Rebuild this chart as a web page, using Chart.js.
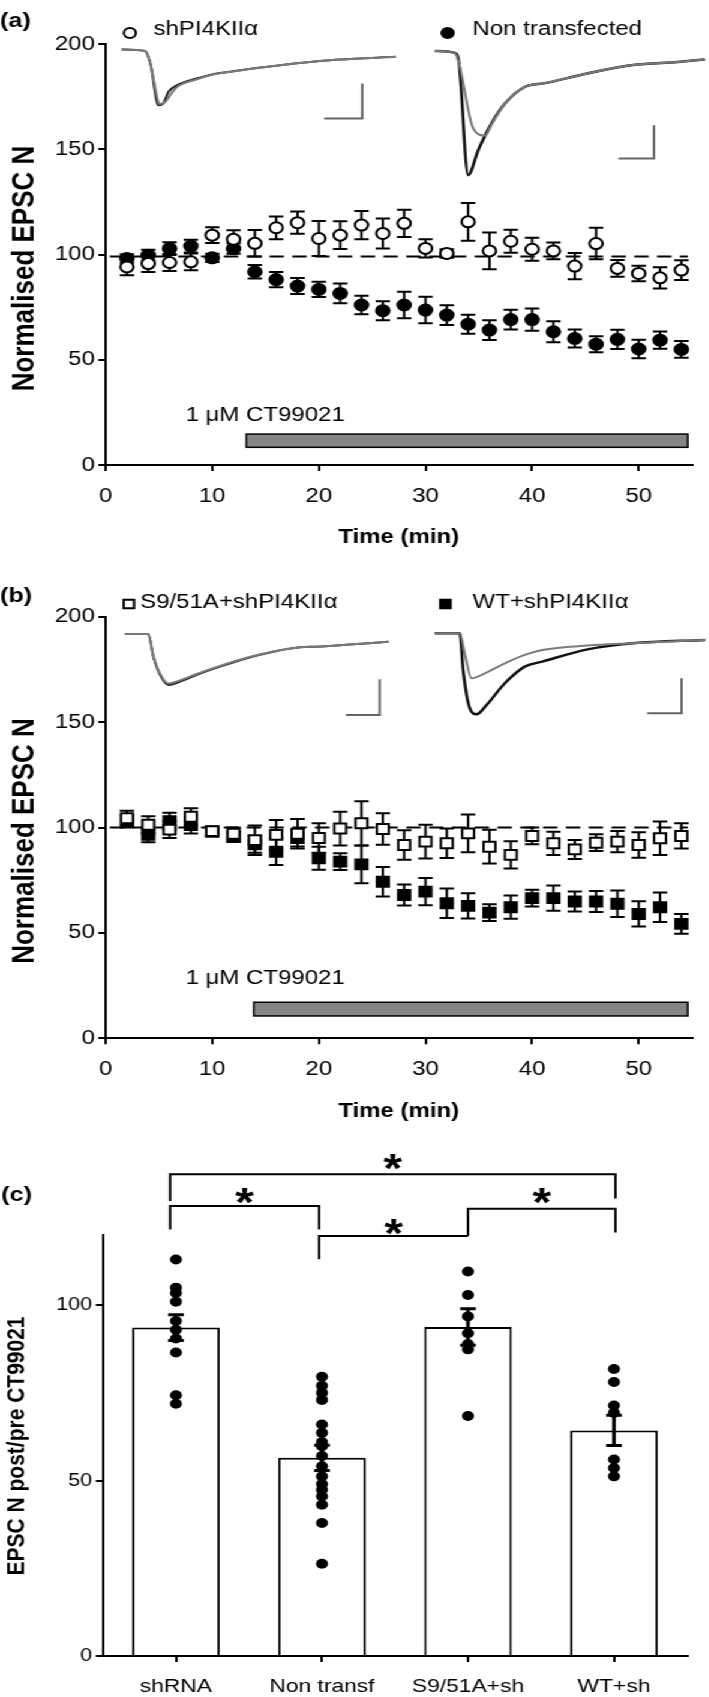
<!DOCTYPE html>
<html>
<head>
<meta charset="utf-8">
<script src="https://cdn.jsdelivr.net/npm/chart.js@4.4.0/dist/chart.umd.min.js"></script>
<style>
  html, body { margin: 0; padding: 0; background: #fff; }
  body { width: 709px; height: 1697px; overflow: hidden; position: relative; }
  /* the published figure is stretched sideways, so draw narrow and widen */
  #wrap { position: absolute; left: 0; top: 0; width: 591px; height: 1697px; transform: scaleX(1.2); transform-origin: 0 0; }
  canvas { position: absolute; left: 0; }
</style>
</head>
<body>
<div id="wrap">
  <canvas id="chartA" width="591" height="560" style="top:0px"></canvas>
  <canvas id="chartB" width="591" height="560" style="top:570px"></canvas>
  <canvas id="chartC" width="591" height="567" style="top:1130px"></canvas>
</div>
<script>
const FONT = '"Liberation Sans", Arial, sans-serif';

// ---------- panel (a) ----------
const timeMin = [2, 4, 6, 8, 10, 12, 14, 16, 18, 20, 22, 24, 26, 28, 30, 32, 34, 36, 38, 40, 42, 44, 46, 48, 50, 52, 54];
const shRNA_a = [94.1, 95.7, 96.2, 96.5, 109.2, 107.2, 105.3, 112.7, 115.1, 107.6, 109.2, 114.0, 110.0, 114.8, 102.9, 100.5, 115.5, 101.7, 106.3, 102.5, 101.7, 94.5, 105.2, 93.4, 91.0, 88.9, 92.6];
const shRNA_a_sem = [4, 4, 4, 4, 3.7, 4.3, 6.3, 5.4, 5.3, 8.3, 6.6, 6.7, 7.1, 6.5, 4.3, 2, 9, 8.7, 5.5, 5.5, 4, 6.2, 7.5, 4, 3.7, 5, 4.7];
const nonTransf_a = [98.1, 99.7, 102.8, 104.0, 98.4, 102.8, 91.8, 88.1, 85.0, 83.4, 81.5, 76.0, 73.3, 76.0, 73.6, 71.2, 66.9, 64.1, 69.1, 69.1, 63.3, 60.1, 57.4, 59.7, 55.1, 59.3, 54.9];
const nonTransf_a_sem = [2, 2.5, 3, 3, 2, 2.5, 3.2, 3.6, 3.8, 3.6, 4.7, 4.4, 4.5, 6.3, 6.3, 4.7, 4.5, 4.7, 4.7, 5.3, 5, 4.3, 3.8, 4.6, 4.4, 4.1, 4];

// example EPSC traces (in axis units)
const trA1x = [1.5, 3.7, 4.2, 4.95, 5.4, 5.9, 6.7, 8.55, 10.1, 11.7, 13.85, 16.35, 18.2, 21.9, 27.2];
const trA1y = [197.4, 196.7, 190.7, 170.9, 171.7, 177.3, 180.4, 183.6, 185.7, 186.8, 188.4, 189.9, 191.0, 192.6, 193.9];
const trA1gx = [1.5, 3.7, 4.2, 5.1, 5.6, 6.1, 6.7, 8.55, 10.1, 11.7, 13.85, 16.35, 18.2, 21.9, 27.2];
const trA1gy = [197.4, 196.7, 190.7, 171.5, 172.5, 176.0, 179.6, 183.2, 185.5, 186.8, 188.4, 189.9, 191.0, 192.6, 193.9];
const trA2x = [30.9, 32.75, 33.15, 34.0, 34.95, 36.2, 37.45, 39.3, 41.2, 45.2, 49.45, 53.65, 56.2];
const trA2y = [196.7, 195.8, 190.7, 137.7, 149.6, 162.3, 171.7, 179.6, 181.4, 186.0, 190.0, 191.5, 192.6];
const trA2gx = [30.9, 32.75, 33.15, 34.5, 35.6, 36.2, 37.45, 39.3, 41.2, 45.2, 49.45, 53.65, 56.2];
const trA2gy = [196.7, 195.8, 190.7, 159.6, 156.5, 161.8, 171.7, 179.6, 181.4, 186.0, 190.0, 191.5, 192.6];
const barA1x = [20.5, 24.07, 24.07], barA1y = [164.6, 164.6, 181.2];
const barA2x = [48.1, 51.43, 51.43], barA2y = [145.6, 145.6, 161.4];

// ---------- panel (b) ----------
const s951_b = [104.4, 101.3, 99.0, 105.1, 98.3, 97.0, 94.0, 96.5, 97.0, 95.0, 99.5, 102.0, 99.3, 91.7, 93.3, 92.5, 97.2, 90.9, 87.0, 96.0, 92.5, 89.6, 92.8, 93.3, 91.7, 94.9, 96.0];
const s951_b_sem = [3.5, 4, 4, 4, 2, 3, 7, 7, 7, 7, 8, 10.5, 7.5, 7, 8, 7, 9, 8, 6.5, 4, 5.5, 4.5, 4, 5, 6, 8, 6];
const wt_b = [103.0, 96.5, 103.0, 101.2, 98.0, 95.6, 92.0, 88.5, 95.0, 85.4, 83.8, 82.5, 74.3, 68.0, 69.6, 64.1, 62.8, 59.6, 62.2, 66.5, 66.5, 64.9, 64.9, 63.8, 59.0, 62.2, 54.3];
const wt_b_sem = [3, 3.5, 4, 4, 2, 2.5, 4, 6.3, 4, 5.5, 4, 9, 7, 5, 6.5, 7, 6, 4, 5.5, 4, 6, 4.7, 5, 6.3, 6, 7, 4.7];

const trB1x = [1.83, 4.0, 4.48, 5.11, 5.89, 6.98, 8.55, 10.73, 13.23, 15.73, 18.23, 19.78, 26.56];
const trB1y = [191.8, 191.8, 181.0, 172.4, 167.6, 169.2, 172.4, 176.3, 180.3, 183.4, 185.5, 185.8, 188.1];
const trB1gy = [191.8, 191.8, 181.4, 173.0, 168.3, 169.8, 172.8, 176.6, 180.5, 183.5, 185.5, 185.8, 188.1];
const trB2x = [30.88, 33.22, 33.53, 34.16, 34.79, 35.73, 37.44, 39.31, 40.97, 45.2, 49.44, 56.22];
const trB2y = [192.1, 192.1, 174.7, 156.5, 153.7, 158.1, 168.4, 176.3, 178.7, 184.5, 187.4, 189.0];
const trB2gx = [30.88, 33.22, 33.70, 34.32, 35.57, 37.44, 39.31, 40.97, 45.2, 49.44, 56.22];
const trB2gy = [192.1, 192.1, 182.1, 170.8, 173.1, 177.9, 181.9, 184.2, 186.3, 187.4, 189.0];
const barB1x = [22.54, 25.71, 25.71], barB1y = [153.4, 153.4, 170.3];
const barB2x = [50.8, 54.02, 54.02], barB2y = [154.2, 154.2, 170.8];

// ---------- panel (c) ----------
const groups = ['shRNA', 'Non transf', 'S9/51A+sh', 'WT+sh'];
const groupMean = [93.6, 56.5, 93.8, 64.3];
const groupSem = [3.7, 3.6, 5.2, 4.3];
const cells_shRNA = [113, 105, 103.5, 101, 95.5, 93, 90.5, 86.5, 74.3, 71.9];
const cells_nonTransf = [79.6, 77, 75, 73, 66, 63.6, 61, 59.8, 57, 54.1, 51.2, 49, 47.4, 45.5, 43.1, 37.9, 26.3];
const cells_s951 = [109.6, 102.9, 96.8, 92, 88.9, 87.4, 68.4];
const cells_wt = [81.8, 78.1, 71.4, 69.3, 56, 53.6, 51.2];
// significance brackets: [left group, right group, top, left end, right end, star]
const sigBrackets = [
  [-0.04, 3.01, 137.3, 129.7, 130.4, 141.6],
  [-0.04, 0.98, 128.3, 121.6, 121.6, 132.1],
  [0.98, 2.0, 119.7, 113.1, 119.7, 123.0],
  [2.0, 3.01, 127.5, 119.7, 120.7, 132.1]
];

function pts(xs, ys) { return xs.map((x, i) => ({ x: x, y: ys[i] })); }

function lineSet(xs, ys, color, w, smooth) {
  return {
    type: 'line', data: pts(xs, ys), showLine: true, borderColor: color, borderWidth: w,
    pointRadius: 0, fill: false, clip: false, tension: 0,
    cubicInterpolationMode: smooth ? 'monotone' : 'default'
  };
}

function drawErr(chart, xs, ys, es, cap, lw) {
  const ctx = chart.ctx, sx = chart.scales.x, sy = chart.scales.y;
  ctx.save();
  ctx.strokeStyle = '#000';
  ctx.lineWidth = lw;
  for (let i = 0; i < xs.length; i++) {
    const px = sx.getPixelForValue(xs[i]);
    const top = sy.getPixelForValue(ys[i] + es[i]);
    const bot = sy.getPixelForValue(ys[i] - es[i]);
    ctx.beginPath();
    ctx.moveTo(px, top); ctx.lineTo(px, bot);
    ctx.moveTo(px - cap, top); ctx.lineTo(px + cap, top);
    ctx.moveTo(px - cap, bot); ctx.lineTo(px + cap, bot);
    ctx.stroke();
  }
  ctx.restore();
}

function drawDrug(chart, d) {
  const ctx = chart.ctx, sx = chart.scales.x, sy = chart.scales.y;
  const x0 = sx.getPixelForValue(d[0]), x1 = sx.getPixelForValue(d[1]);
  const y0 = sy.getPixelForValue(d[3]), y1 = sy.getPixelForValue(d[2]);
  ctx.save();
  ctx.fillStyle = '#858585';
  ctx.fillRect(x0, y0, x1 - x0, y1 - y0);
  ctx.strokeStyle = '#000';
  ctx.lineWidth = 1.5;
  ctx.strokeRect(x0, y0, x1 - x0, y1 - y0);
  ctx.fillStyle = '#000';
  ctx.font = '20px ' + FONT;
  ctx.textAlign = 'left';
  ctx.textBaseline = 'middle';
  ctx.fillText('1 \u03bcM CT99021', sx.getPixelForValue(d[4]), sy.getPixelForValue(d[5]));
  ctx.restore();
}

function drawMarker(ctx, m) {
  ctx.save();
  ctx.lineWidth = 2;
  ctx.strokeStyle = '#000';
  ctx.fillStyle = m.fill ? '#000' : '#fff';
  ctx.beginPath();
  if (m.shape === 'rect') ctx.rect(m.x - m.r, m.y - m.r, 2 * m.r, 2 * m.r);
  else ctx.arc(m.x, m.y, m.r, 0, Math.PI * 2);
  ctx.fill();
  ctx.stroke();
  ctx.restore();
}

function drawText(ctx, t) {
  ctx.save();
  ctx.fillStyle = '#000';
  ctx.font = t.font;
  ctx.textAlign = t.align || 'left';
  ctx.textBaseline = t.baseline || 'alphabetic';
  ctx.translate(t.x, t.y);
  if (t.rot) ctx.rotate(t.rot);
  ctx.fillText(t.text, 0, 0);
  ctx.restore();
}

function makeExtras(cfg) {
  return {
    id: 'extras',
    beforeDatasetsDraw(chart) {
      if (cfg.drug) drawDrug(chart, cfg.drug);
      if (!cfg.errOnTop) (cfg.errs || []).forEach(e => drawErr(chart, e[0], e[1], e[2], e[3], e[4]));
    },
    afterDatasetsDraw(chart) {
      if (cfg.errOnTop) (cfg.errs || []).forEach(e => drawErr(chart, e[0], e[1], e[2], e[3], e[4]));
      const ctx = chart.ctx, sx = chart.scales.x, sy = chart.scales.y;
      (cfg.brackets || []).forEach(b => {
        const xl = sx.getPixelForValue(b[0]), xr = sx.getPixelForValue(b[1]);
        const yt = sy.getPixelForValue(b[2]);
        ctx.save();
        ctx.strokeStyle = '#000';
        ctx.lineWidth = 2;
        ctx.beginPath();
        ctx.moveTo(xl, sy.getPixelForValue(b[3]));
        ctx.lineTo(xl, yt);
        ctx.lineTo(xr, yt);
        ctx.lineTo(xr, sy.getPixelForValue(b[4]));
        ctx.stroke();
        ctx.fillStyle = '#000';
        ctx.font = 'bold 40px ' + FONT;
        ctx.textAlign = 'center';
        ctx.textBaseline = 'alphabetic';
        ctx.fillText('*', (xl + xr) / 2, sy.getPixelForValue(b[5]) + 23);
        ctx.restore();
      });
    },
    afterDraw(chart) {
      (cfg.markers || []).forEach(m => drawMarker(chart.ctx, m));
      (cfg.texts || []).forEach(t => drawText(chart.ctx, t));
    }
  };
}

function timeScales(xHeight) {
  return {
    x: {
      type: 'linear', min: 0, max: 55,
      afterFit: s => { s.height = xHeight; },
      border: { color: '#000', width: 2 },
      grid: { drawOnChartArea: false, color: '#000', lineWidth: 2, tickLength: 6 },
      ticks: { stepSize: 10, includeBounds: false, color: '#000', padding: 13, maxRotation: 0, font: { family: FONT, size: 20 } }
    },
    y: {
      type: 'linear', min: 0, max: 200,
      afterFit: s => { s.width = 88; },
      border: { color: '#000', width: 2 },
      grid: { drawOnChartArea: false, color: '#000', lineWidth: 2, tickLength: 6 },
      ticks: { stepSize: 50, color: '#000', padding: 3, font: { family: FONT, size: 20 } }
    }
  };
}

function pointSet(ys, shape, filled, r) {
  return {
    type: 'scatter', data: pts(timeMin, ys), showLine: false,
    pointStyle: shape, pointRadius: r, pointBorderWidth: 2,
    pointBorderColor: '#000', pointBackgroundColor: filled ? '#000' : '#fff'
  };
}

const baseOpts = {
  responsive: false, animation: false, devicePixelRatio: 1,
  plugins: { legend: { display: false }, tooltip: { enabled: false } }
};

// panel (a)
new Chart(document.getElementById('chartA').getContext('2d'), {
  type: 'scatter',
  data: {
    datasets: [
      pointSet(shRNA_a, 'circle', false, 5.5),
      pointSet(nonTransf_a, 'circle', true, 5.5),
      Object.assign(lineSet([0.4, 54.6], [99, 99], '#000', 2, false), { borderDash: [12, 7] }),
      lineSet(trA1gx, trA1gy, '#7a7a7a', 2, true),
      lineSet(trA1x, trA1y, '#222', 2, true),
      lineSet(trA2gx, trA2gy, '#7a7a7a', 2, true),
      lineSet(trA2x, trA2y, '#111', 2.5, true),
      lineSet(barA1x, barA1y, '#666', 2, false),
      lineSet(barA2x, barA2y, '#666', 2, false)
    ]
  },
  options: Object.assign({}, baseOpts, {
    layout: { padding: { top: 44, right: 14.3, left: 0, bottom: 0 } },
    scales: timeScales(95)
  }),
  plugins: [makeExtras({
    drug: [13.2, 54.6, 8.4, 14.7, 7.5, 23.7],
    errs: [[timeMin, nonTransf_a, nonTransf_a_sem, 6, 2], [timeMin, shRNA_a, shRNA_a_sem, 6, 2]],
    markers: [
      { shape: 'circle', fill: false, x: 108.2, y: 33, r: 5 },
      { shape: 'circle', fill: true, x: 373, y: 33, r: 5 }
    ],
    texts: [
      { text: '(a)', x: 0, y: 21, font: 'bold 21px ' + FONT, baseline: 'middle' },
      { text: 'shPI4KII\u03b1', x: 128, y: 35, font: '20px ' + FONT },
      { text: 'Non transfected', x: 393.8, y: 35, font: '20px ' + FONT },
      { text: 'Normalised EPSC N', x: 21, y: 268.5, font: 'bold 26px ' + FONT, align: 'center', baseline: 'middle', rot: -Math.PI / 2 },
      { text: 'Time (min)', x: 332.3, y: 537, font: 'bold 20px ' + FONT, align: 'center', baseline: 'middle' }
    ]
  })]
});

// panel (b)
new Chart(document.getElementById('chartB').getContext('2d'), {
  type: 'scatter',
  data: {
    datasets: [
      pointSet(s951_b, 'rect', false, 7),
      pointSet(wt_b, 'rect', true, 7),
      Object.assign(lineSet([0.4, 54.6], [100, 100], '#000', 2, false), { borderDash: [12, 7] }),
      lineSet(trB1x, trB1gy, '#7a7a7a', 2, true),
      lineSet(trB1x, trB1y, '#222', 2, true),
      lineSet(trB2gx, trB2gy, '#7a7a7a', 2, true),
      lineSet(trB2x, trB2y, '#111', 2.5, true),
      lineSet(barB1x, barB1y, '#666', 2, false),
      lineSet(barB2x, barB2y, '#666', 2, false)
    ]
  },
  options: Object.assign({}, baseOpts, {
    layout: { padding: { top: 46.7, right: 14.3, left: 0, bottom: 0 } },
    scales: timeScales(91.7)
  }),
  plugins: [makeExtras({
    drug: [13.9, 54.6, 10.6, 17.1, 7.5, 28.6],
    errs: [[timeMin, wt_b, wt_b_sem, 6, 2], [timeMin, s951_b, s951_b_sem, 6, 2]],
    markers: [
      { shape: 'rect', fill: false, x: 107.4, y: 34, r: 4.3 },
      { shape: 'rect', fill: true, x: 371.2, y: 34, r: 4.3 }
    ],
    texts: [
      { text: '(b)', x: 0, y: 26, font: 'bold 21px ' + FONT, baseline: 'middle' },
      { text: 'S9/51A+shPI4KII\u03b1', x: 116.8, y: 38.3, font: '20px ' + FONT },
      { text: 'WT+shPI4KII\u03b1', x: 393.8, y: 38.3, font: '20px ' + FONT },
      { text: 'Normalised EPSC N', x: 21, y: 271, font: 'bold 26px ' + FONT, align: 'center', baseline: 'middle', rot: -Math.PI / 2 },
      { text: 'Time (min)', x: 332.3, y: 541, font: 'bold 20px ' + FONT, align: 'center', baseline: 'middle' }
    ]
  })]
});

// panel (c)
const cellPts = [];
[cells_shRNA, cells_nonTransf, cells_s951, cells_wt].forEach((arr, g) => {
  arr.forEach(v => cellPts.push({ x: groups[g], y: v }));
});

new Chart(document.getElementById('chartC').getContext('2d'), {
  type: 'bar',
  data: {
    labels: groups,
    datasets: [
      {
        type: 'line', data: cellPts, showLine: false, pointRadius: 5, pointBorderWidth: 0,
        pointBackgroundColor: '#000', pointBorderColor: '#000'
      },
      {
        type: 'bar', data: groupMean, backgroundColor: '#fff', borderColor: '#000', borderWidth: 2,
        barPercentage: 0.6, categoryPercentage: 1
      }
    ]
  },
  options: Object.assign({}, baseOpts, {
    layout: { padding: { top: 105, right: 18.5, left: 0, bottom: 0 } },
    scales: {
      x: {
        afterFit: s => { s.height = 41; },
        border: { color: '#000', width: 2 },
        grid: { drawOnChartArea: false, offset: false, color: '#000', lineWidth: 2, tickLength: 6 },
        ticks: { color: '#000', padding: 13, maxRotation: 0, font: { family: FONT, size: 19 } }
      },
      y: {
        min: 0, max: 120,
        afterFit: s => { s.width = 85.8; },
        border: { color: '#000', width: 2 },
        grid: { drawOnChartArea: false, color: '#000', lineWidth: 2, tickLength: 6 },
        ticks: { stepSize: 50, includeBounds: false, color: '#000', padding: 3, font: { family: FONT, size: 18 } }
      }
    }
  }),
  plugins: [makeExtras({
    errOnTop: true,
    errs: [[[0, 1, 2, 3], groupMean, groupSem, 6.5, 3]],
    brackets: sigBrackets,
    texts: [
      { text: '(c)', x: 1, y: 65, font: 'bold 21px ' + FONT, baseline: 'middle' },
      { text: 'EPSC N post/pre CT99021', x: 14, y: 316, font: 'bold 21px ' + FONT, align: 'center', baseline: 'middle', rot: -Math.PI / 2 }
    ]
  })]
});
</script>
</body>
</html>
